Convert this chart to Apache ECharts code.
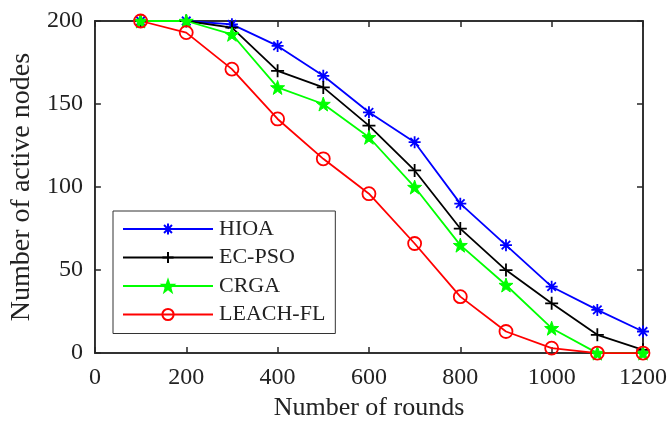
<!DOCTYPE html>
<html><head><meta charset="utf-8">
<script src="https://cdn.jsdelivr.net/npm/echarts@6/dist/echarts.min.js"></script>
<style>html,body{margin:0;padding:0;background:#fff}#c{width:670px;height:426px}</style>
</head><body><div id="c"></div>
<script>
const rounds = [100,200,300,400,500,600,700,800,900,1000,1100,1200];
const hioa   = [200,200,198,185,167,145,127,90,65,40,26,13];
const ecpso  = [200,200,196,170,160,137,110,75,50,30,11,2];
const crga   = [200,200,192,160,150,130,100,65,41,15,0,0];
const leach  = [200,193,171,141,117,96,66,34,13,3,0,0];
const names = ['HIOA','EC-PSO','CRGA','LEACH-FL'];

function starPath(){
  let p='';
  for(let i=0;i<10;i++){
    const r = i%2===0?10:4;
    const a = -Math.PI/2 + i*Math.PI/5;
    const x = 10 + r*Math.cos(a), y = 10 + r*Math.sin(a);
    p += (i===0?'M':'L') + x.toFixed(2)+' '+y.toFixed(2)+' ';
  }
  return 'path://'+p+'Z';
}
const asterisk = 'path://M10 0 L10 20 M0 10 L20 10 M2.9 2.9 L17.1 17.1 M17.1 2.9 L2.9 17.1';
const plus = 'path://M10 0 L10 20 M0 10 L20 10';
const circle = 'path://M0 10 A10 10 0 1 1 20 10 A10 10 0 1 1 0 10 Z';
const font = 'Liberation Serif';
const axisCol = '#262626';
const txtCol = '#222';

function mk(name, data, color, symbol, size, fill, bw){
  return {
    name, type:'line', data: rounds.map((r,i)=>[r,data[i]]),
    symbol, symbolSize: size, showAllSymbol:true, z:3,
    lineStyle:{color, width:1.8},
    itemStyle:{color: fill, borderColor: color, borderWidth: bw},
    emphasis:{disabled:true}
  };
}
const tickStyle = {show:true,inside:true,length:6,lineStyle:{color:axisCol,width:1.5}};
const lineStyleAx = {show:true,onZero:false,lineStyle:{color:axisCol,width:1.5}};
const chart = echarts.init(document.getElementById('c'), null, {renderer:'canvas'});
chart.setOption({
  animation:false,
  backgroundColor:'#fff',
  grid:{left:93,right:27,top:21,bottom:64,show:true,borderColor:axisCol,borderWidth:1.5,backgroundColor:'transparent'},
  textStyle:{fontFamily:font},
  legend:{
    orient:'vertical', left:113, top:211,
    data:names,
    backgroundColor:'#fff', borderColor:'#333', borderWidth:1,
    padding:[7,10,8,9],
    itemWidth:90, itemHeight:14, itemGap:6.5,
    textStyle:{fontFamily:font, fontSize:22, lineHeight:22, color:txtCol, padding:[0,0,0,1]}
  },
  xAxis:[{
    type:'value', min:0, max:1200, interval:200,
    name:'Number of rounds', nameLocation:'middle', nameGap:33,
    nameTextStyle:{fontFamily:font, fontSize:26, color:txtCol},
    axisLine:lineStyleAx, axisTick:tickStyle,
    axisLabel:{fontFamily:font,fontSize:24,color:txtCol,margin:13,formatter:v=>String(v)},
    splitLine:{show:false}
  },{
    type:'value', min:0, max:1200, interval:200, position:'top',
    axisLine:lineStyleAx, axisTick:tickStyle,
    axisLabel:{show:false}, splitLine:{show:false}
  }],
  yAxis:[{
    type:'value', min:0, max:200, interval:50,
    name:'Number of active nodes', nameLocation:'middle', nameGap:50,
    nameTextStyle:{fontFamily:font, fontSize:28, color:txtCol},
    axisLine:lineStyleAx, axisTick:tickStyle,
    axisLabel:{fontFamily:font,fontSize:24,color:txtCol,margin:12,formatter:v=>String(v)},
    splitLine:{show:false}
  },{
    type:'value', min:0, max:200, interval:50, position:'right',
    axisLine:lineStyleAx, axisTick:tickStyle,
    axisLabel:{show:false}, splitLine:{show:false}
  }],
  series:[
    mk('HIOA', hioa, '#0000ff', asterisk, 12, '#0000ff', 1.8),
    mk('EC-PSO', ecpso, '#000000', plus, 13, '#000000', 1.8),
    mk('CRGA', crga, '#00ff00', starPath(), 14, '#00ff00', 1),
    mk('LEACH-FL', leach, '#ff0000', circle, 13, 'rgba(0,0,0,0)', 1.8),
    {type:'line', xAxisIndex:1, yAxisIndex:1, data:[], silent:true}
  ]
});
</script></body></html>
